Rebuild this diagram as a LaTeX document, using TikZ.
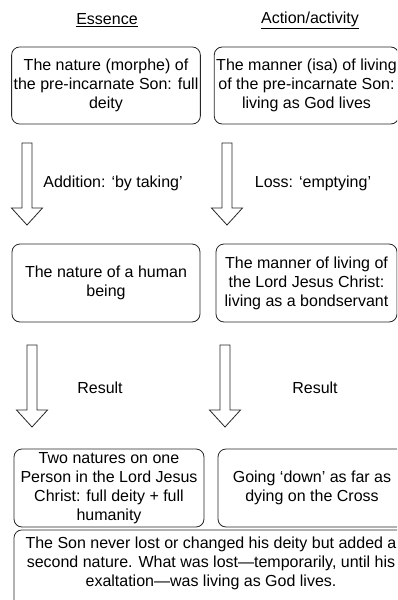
\documentclass[tikz,border=0pt]{standalone}
\usepackage{fontspec}
\setmainfont{Liberation Sans}
\usetikzlibrary{positioning}
\tikzset{
  box/.style={draw=black!85,line width=0.8pt,rounded corners=8pt,align=center,
    inner sep=2pt,font=\fontsize{16}{19}\selectfont},
  note/.style={font=\fontsize{16}{19}\selectfont},
  hollow/.style={draw=black!85,line width=0.8pt,fill=white}
}

\begin{document}
\begin{tikzpicture}[x=1pt,y=-1pt]
\useasboundingbox (0,0) rectangle (397,600);
\clip (0,0) rectangle (397,600);
% column headings
\node[note] (essence) at (107,20) {\underline{Essence}};
\node[note] (action) at (310,20) {\underline{Action/activity}};
% first row of boxes
\node[box,minimum width=188pt,minimum height=77pt] (deity) at (106,85.5)
  {The nature (morphe) of\\the pre-incarnate Son: full\\deity};
\node[box,minimum width=181pt,minimum height=77pt] (godlives) at (306.5,85.5)
  {The manner (isa) of living\\of the pre-incarnate Son:\\living as God lives};
% hollow block arrows
\foreach \x/\y in {27/143,227/143,32/345,225/345}{
  \draw[hollow] (\x-5,\y) -- (\x+5,\y) -- (\x+5,\y+65) -- (\x+15.5,\y+65)
    -- (\x,\y+82) -- (\x-15.5,\y+65) -- (\x-5,\y+65) -- cycle;
}
\node[note] (taking) at (113,183) {Addition: ‘by taking’};
\node[note] (emptying) at (313,183) {Loss: ‘emptying’};
% second row of boxes
\node[box,minimum width=188pt,minimum height=78pt] (human) at (106,283)
  {The nature of a human\\being};
\node[box,minimum width=181pt,minimum height=78pt] (servant) at (306.5,283)
  {The manner of living of\\the Lord Jesus Christ:\\living as a bondservant};
\node[note] (resultl) at (100,388) {Result};
\node[note] (resultr) at (315,388) {Result};
% third row of boxes
\node[box,minimum width=190pt,minimum height=78pt] (natures) at (109,488)
  {Two natures on one\\Person in the Lord Jesus\\Christ: full deity + full\\humanity};
\node[box,minimum width=188pt,minimum height=78pt] (cross) at (312,488)
  {Going ‘down’ as far as\\dying on the Cross};
% summary box, cut off at the bottom
\node[box,anchor=north,minimum width=394pt,inner ysep=7pt,text depth=45pt] (summary)
  at (211,529.5)
  {The Son never lost or changed his deity but added a\\second nature. What was lost—temporarily, until his\\exaltation—was living as God lives.};
\end{tikzpicture}
\end{document}
